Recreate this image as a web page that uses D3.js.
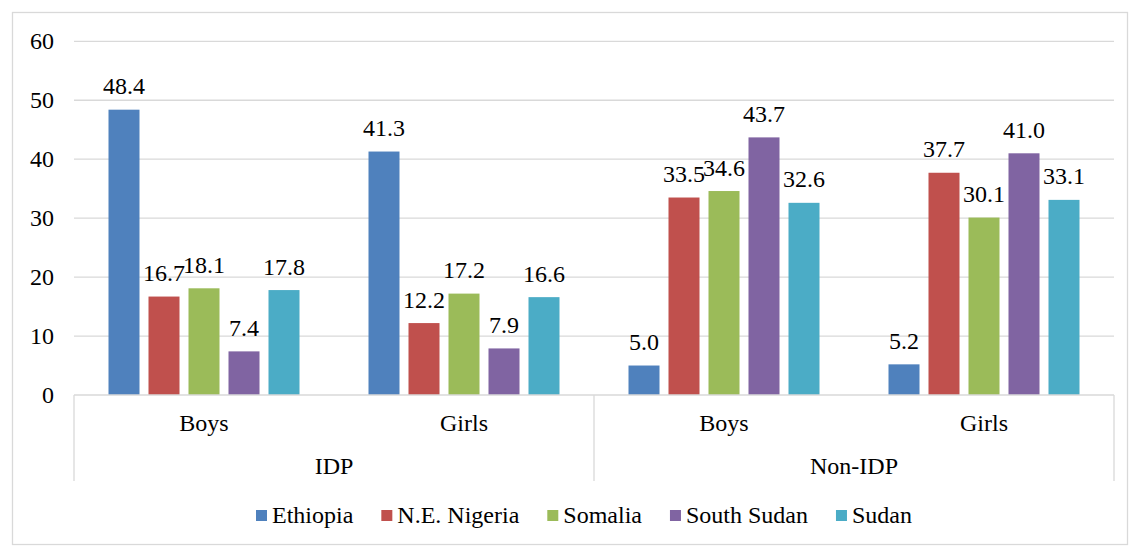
<!DOCTYPE html>
<html>
<head>
<meta charset="utf-8">
<script src="https://cdn.jsdelivr.net/npm/d3@7"></script>
<style>
    body { margin: 0; }
    #chart text { font-family: 'Liberation Serif', 'Times New Roman', serif !important; font-size: 24px; fill: #000; }
</style>
</head>
<body>
<svg id="chart" width="1129" height="546" style="font-family:'Liberation Serif',serif"></svg>
<script>
// Groups on the category axis (inner level, outer level)
const groups = ['IDP|Boys', 'IDP|Girls', 'Non-IDP|Boys', 'Non-IDP|Girls'];
const innerLabels = ['Boys', 'Girls', 'Boys', 'Girls'];
const outerLabels = ['IDP', 'Non-IDP'];

const countries = ['Ethiopia', 'N.E. Nigeria', 'Somalia', 'South Sudan', 'Sudan'];
const colors = ['#4f81bd', '#c0504d', '#9bbb59', '#8064a2', '#4bacc6'];

// values per country, in group order
const ethiopia = [48.4, 41.3, 5.0, 5.2];
const nigeria = [16.7, 12.2, 33.5, 37.7];
const somalia = [18.1, 17.2, 34.6, 30.1];
const southSudan = [7.4, 7.9, 43.7, 41.0];
const sudan = [17.8, 16.6, 32.6, 33.1];

const yTicks = [0, 10, 20, 30, 40, 50, 60];

const seriesValues = [ethiopia, nigeria, somalia, southSudan, sudan];

const W = 1129, H = 546,
    plot = { left: 74, right: 1114, top: 41.3, bottom: 395 },
    gridColor = '#d9d9d9';

const svg = d3.select('#chart');

// every text gets the same font
const addText = (sel) => sel.append('text')
    .attr('style', "font-family:'Liberation Serif',serif;font-size:24px;fill:#000");

// outer chart border
svg.append('rect')
    .attr('x', 12.5).attr('y', 12.5)
    .attr('width', W - 14).attr('height', H - 14)
    .attr('fill', 'none')
    .attr('stroke', gridColor)
    .attr('stroke-width', 1.3);

const y = d3.scaleLinear()
    .domain([0, 60])
    .range([plot.bottom, plot.top]);

const x0 = d3.scaleBand()
    .domain(groups)
    .range([plot.left, plot.right]);

// bars within a group: 31px wide at a 40px pitch
const x1 = d3.scaleBand()
    .domain(countries)
    .range([-95.5, 95.5])
    .paddingInner(0.225);

// gridlines + y labels
yTicks.forEach(t => {
    if (t > 0) {
        svg.append('line')
            .attr('x1', plot.left).attr('x2', plot.right)
            .attr('y1', y(t)).attr('y2', y(t))
            .attr('stroke', gridColor)
            .attr('stroke-width', 1.3);
    }
    addText(svg)
        .attr('x', 54)
        .attr('y', y(t) + 8)
        .attr('text-anchor', 'end')
        .text(t);
});

// bars
const barData = [];
seriesValues.forEach((vals, i) => {
    vals.forEach((v, j) => {
        barData.push({ country: countries[i], color: colors[i], group: groups[j], value: v });
    });
});

const barX = d => x0(d.group) + x0.bandwidth() / 2 + x1(d.country);

barData.forEach(d => {
    svg.append('rect')
        .attr('x', barX(d))
        .attr('y', y(d.value))
        .attr('width', x1.bandwidth())
        .attr('height', y(0) - y(d.value))
        .attr('fill', d.color);
    addText(svg)
        .attr('x', barX(d) + x1.bandwidth() / 2)
        .attr('y', y(d.value) - 15.5)
        .attr('text-anchor', 'middle')
        .text(d.value.toFixed(1));
});

// multi-level category axis
svg.append('line')
    .attr('x1', plot.left).attr('x2', plot.right)
    .attr('y1', plot.bottom).attr('y2', plot.bottom)
    .attr('stroke', gridColor)
    .attr('stroke-width', 1.3);

[plot.left, x0(groups[2]), plot.right].forEach(px => {
    svg.append('line')
        .attr('x1', px).attr('x2', px)
        .attr('y1', plot.bottom).attr('y2', 481)
        .attr('stroke', gridColor)
        .attr('stroke-width', 1.3);
});

groups.forEach((g, i) => {
    addText(svg)
        .attr('x', x0(g) + x0.bandwidth() / 2)
        .attr('y', 431)
        .attr('text-anchor', 'middle')
        .text(innerLabels[i]);
});

outerLabels.forEach((lab, i) => {
    const left = x0(groups[i * 2]),
        right = x0(groups[i * 2 + 1]) + x0.bandwidth();
    addText(svg)
        .attr('x', (left + right) / 2)
        .attr('y', 474)
        .attr('text-anchor', 'middle')
        .text(lab);
});

// legend
let lx = 256;
countries.forEach((c, i) => {
    svg.append('rect')
        .attr('x', lx).attr('y', 510)
        .attr('width', 11).attr('height', 11)
        .attr('fill', colors[i]);
    const t = addText(svg)
        .attr('x', lx + 16)
        .attr('y', 523)
        .text(c);
    lx += 16 + t.node().getComputedTextLength() + 28;
});
</script>
</body>
</html>
